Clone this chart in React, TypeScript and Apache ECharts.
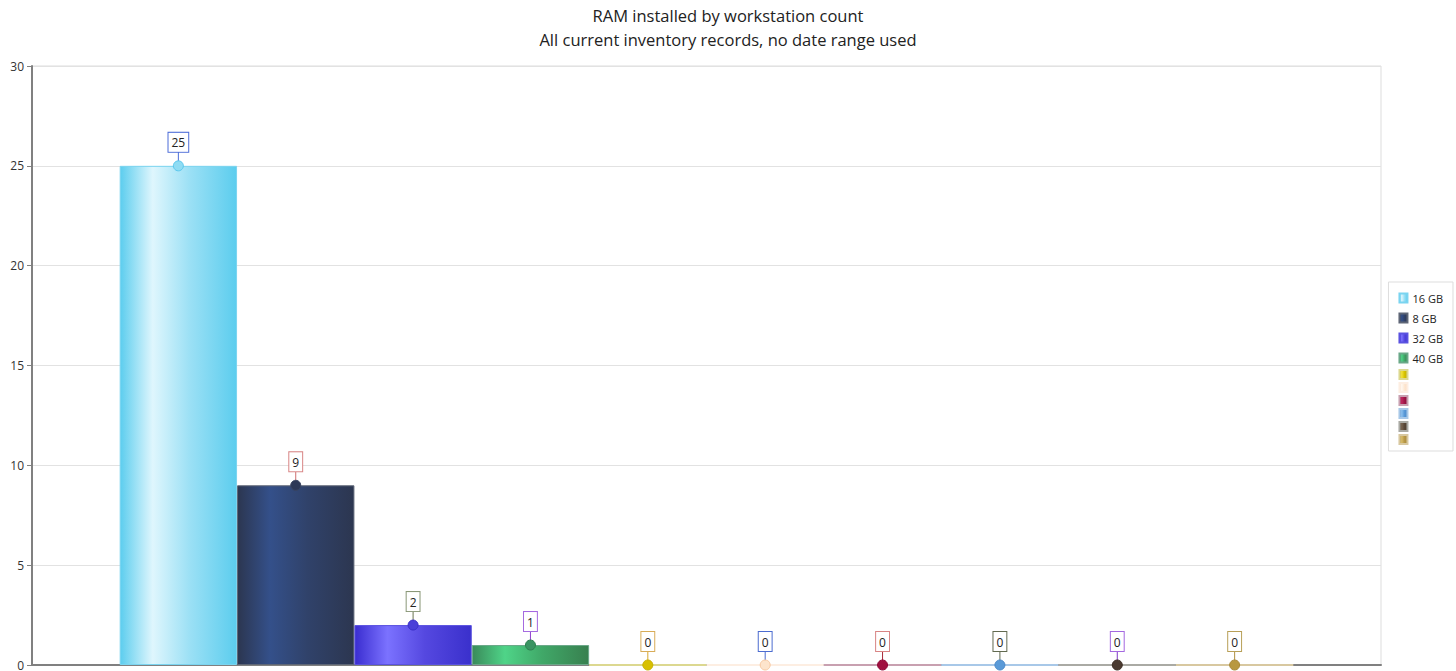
import React, { useEffect, useRef } from "react";
import * as echarts from "echarts";

const titleText = "RAM installed by workstation count";
const subtitleText = "All current inventory records, no date range used";
const categories = ["RAM"];
const seriesNames = ["16 GB", "8 GB", "32 GB", "40 GB", "s5", "s6", "s7", "s8", "s9", "s10"];
const legendLabels = ["16 GB", "8 GB", "32 GB", "40 GB", "", "", "", "", "", ""];
const seriesValues = [25, 9, 2, 1, 0, 0, 0, 0, 0, 0];
const yTicks = { min: 0, max: 30, interval: 5 };

// styles
const gradStops = [
  ["#5ccdee", "#dff6fd", "#9be0f5", "#5ccdee"],
  ["#2c3650", "#34508a", "#30426a", "#2c3650"],
  ["#3a2dd0", "#7b72ff", "#5548e0", "#3a30cc"],
  ["#3a8a5a", "#4fd488", "#40a868", "#38804f"],
  ["#c8b400", "#f2e23a", "#d8c400", "#c0aa00"],
  ["#fbe0c8", "#fff8f0", "#fde8d4", "#fbdcc0"],
  ["#8c0c3c", "#c02860", "#a01848", "#880838"],
  ["#4a88c8", "#8cc0ee", "#5a9ad8", "#4a88c8"],
  ["#4a3a2c", "#786450", "#5a4838", "#4a3a2c"],
  ["#a88a38", "#d8bc68", "#b89848", "#a88838"],
];
const barBorders = ["#7ad4f0", "#5e6676", "#5a52e0", "#6aa888", "#dcd890", "#fdeee2", "#c8a0b0", "#a8c8e8", "#aaaaa4", "#d8c8a0"];
const labelBorders = ["#4c6cd8", "#d88484", "#8a9878", "#a468e0", "#d8ac58", "#4c6cd0", "#d88484", "#626a50", "#a468e0", "#b8a058"];
const stemColors = ["#4c6cd8", "#d07070", "#6a7450", "#9040d0", "#d8a830", "#4c6cd0", "#a82838", "#626a50", "#8038c8", "#b09040"];
const dotColors = ["#8fdcf3", "#2d3856", "#4a40d8", "#3a9462", "#d8c000", "#fde4cc", "#a01040", "#5a9ad8", "#4a3a30", "#b89840"];
const dotBorders = ["#5bc8ee", "#3a4460", "#3a30c8", "#2e8050", "#c8b000", "#f8c8a0", "#900838", "#4a88c8", "#3a2c22", "#a88838"];

const FONT = "'Open Sans', 'Noto Sans', sans-serif";

export default function App() {
  const ref = useRef<HTMLDivElement>(null);
  useEffect(() => {
    if (!ref.current) return;
    const chart = echarts.init(ref.current, null, { renderer: "svg" });
    const series = seriesNames.map((name, i) => ({
      name,
      type: "bar",
      data: [seriesValues[i]],
      barGap: "0%",
      barCategoryGap: "13%",
      itemStyle: {
        color: new echarts.graphic.LinearGradient(0, 0, 1, 0, [
          { offset: 0, color: gradStops[i][0] },
          { offset: 0.28, color: gradStops[i][1] },
          { offset: 0.6, color: gradStops[i][2] },
          { offset: 1, color: gradStops[i][3] },
        ]),
        borderColor: barBorders[i],
        borderWidth: seriesValues[i] === 0 ? 2 : 1,
      },
      emphasis: { disabled: true },
      markPoint: {
        animation: false,
        data: [
          {
            type: "max",
            symbol: "rect",
            symbolSize: [1, 14],
            symbolOffset: [0, -7],
            itemStyle: { color: stemColors[i] },
            label: {
              show: true,
              position: "top",
              distance: 0,
              formatter: "{c}",
              fontFamily: FONT,
              fontSize: 12,
              lineHeight: 14,
              color: "#222",
              backgroundColor: "#fff",
              borderColor: labelBorders[i],
              borderWidth: 1,
              padding: [3, 3, 2, 3],
            },
          },
          {
            type: "max",
            symbol: "circle",
            symbolSize: 10,
            itemStyle: { color: dotColors[i], borderColor: dotBorders[i], borderWidth: 1 },
            label: { show: false },
          },
        ],
      },
    }));
    chart.setOption({
      animation: false,
      title: {
        text: titleText,
        subtext: subtitleText,
        left: "center",
        top: 5,
        padding: 0,
        itemGap: 3,
        textStyle: { fontFamily: FONT, fontSize: 16.5, fontWeight: "normal", color: "#222", lineHeight: 21 },
        subtextStyle: { fontFamily: FONT, fontSize: 16.5, color: "#222", lineHeight: 21 },
      },
      legend: {
        orient: "vertical",
        right: 3,
        top: 282,
        padding: [7, 10, 6, 10],
        itemWidth: 8,
        itemHeight: 9,
        itemGap: 2,
        icon: "rect",
        backgroundColor: "#fff",
        borderColor: "#dddddd",
        borderWidth: 1,
        data: seriesNames,
        formatter: (name: string) => legendLabels[seriesNames.indexOf(name)],
        textStyle: { fontFamily: FONT, fontSize: 11, color: "#222", lineHeight: 18 },
      },
      grid: {
        left: 32,
        right: 75,
        top: 66,
        bottom: 2,
        show: true,
        borderColor: "#dddddd",
        borderWidth: 1,
      },
      xAxis: {
        type: "category",
        data: categories,
        axisLabel: { show: false },
        axisTick: { show: false },
        axisLine: { lineStyle: { color: "#808080", width: 2 } },
      },
      yAxis: {
        type: "value",
        min: yTicks.min,
        max: yTicks.max,
        interval: yTicks.interval,
        axisLine: { show: true, lineStyle: { color: "#808080", width: 2 } },
        axisTick: { show: true, length: 5, lineStyle: { color: "#808080" } },
        axisLabel: { fontFamily: FONT, fontSize: 12, color: "#333", margin: 8 },
        splitLine: { lineStyle: { color: "#e2e2e2" } },
      },
      series,
    });
    return () => chart.dispose();
  }, []);
  return <div ref={ref} style={{ position: "absolute", left: 0, top: 0, width: 1456, height: 671 }} />;
}
